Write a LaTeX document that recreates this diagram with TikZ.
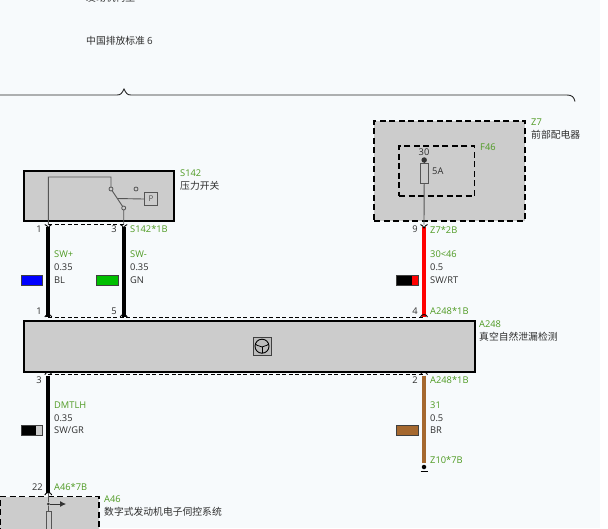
\documentclass[tikz,border=0pt]{standalone}
\usepackage{fontspec}
\setmainfont{Open Sans}
\newfontfamily\cjk{Noto Sans CJK SC}
\usetikzlibrary{calc,arrows.meta}
\definecolor{bgc}{HTML}{F7FAFC}
\definecolor{gry}{HTML}{CCCCCC}
\definecolor{grn}{HTML}{4E9A22}
\definecolor{txt}{HTML}{2E2E2E}
\definecolor{brn}{HTML}{A5682F}
\definecolor{inner}{HTML}{555555}
\newcommand{\cj}{\fontsize{9.8}{11}\selectfont\cjk}
\tikzset{
 x=1pt,y=-1pt,
 comp/.style={draw=black,line width=2pt,fill=gry},
 dcomp/.style={draw=black,line width=1.8pt,fill=gry,dash pattern=on 6pt off 3.5pt},
 dbox/.style={draw=black,line width=1.6pt,dash pattern=on 6pt off 3.5pt},
 shield/.style={draw=black,line width=0.7pt,dash pattern=on 4pt off 2.5pt},
 wire/.style={line width=3.8pt,line cap=butt},
 thin line/.style={draw=inner,line width=0.9pt},
 swatch/.style={draw=black!75,line width=0.7pt,minimum width=21.5pt,minimum height=10pt,inner sep=0pt,outer sep=0pt},
 lab/.style={inner sep=0pt,anchor=west,font=\fontsize{9.3}{11}\selectfont,text=txt},
 glab/.style={lab,text=grn},
 pin/.style={inner sep=0pt,anchor=east,font=\fontsize{9.3}{11}\selectfont,text=txt},
 pinb/.style={draw=black,line width=0.9pt,fill=none},
 hole/.style={circle,draw=inner,line width=0.8pt,fill=gry,minimum size=4pt,inner sep=0pt},
}
\newcommand{\forkup}[1]{\draw[pinb] ($(#1)+(-3.5,0)$) .. controls ($(#1)+(-1.5,0.5)$) and ($(#1)+(-1,2)$) .. ($(#1)+(0,3.5)$) .. controls ($(#1)+(1,2)$) and ($(#1)+(1.5,0.5)$) .. ($(#1)+(3.5,0)$);}
\newcommand{\forkdn}[1]{\draw[pinb] ($(#1)+(-3.5,0)$) .. controls ($(#1)+(-2.5,-3.2)$) and ($(#1)+(2.5,-3.2)$) .. ($(#1)+(3.5,0)$);}
\begin{document}
\begin{tikzpicture}
\useasboundingbox (0,0) rectangle (608,528);
\fill[white] (0,0) rectangle (608,528);
\fill[bgc] (0,0) rectangle (600,528);

% top texts
\begin{scope}
\clip (0,0) rectangle (608,528);
\node[lab] (cut) at (86,-2) {\cj 发动机构型};
\end{scope}
\node[lab] (std) at (86,41) {\cj 中国排放标准\ \rmfamily 6};

% bracket
\coordinate (brL) at (0,95);
\coordinate (brP) at (124,89);
\coordinate (brR) at (575,101.5);
\draw[line width=0.9pt,draw=black!85] (brL) -- (117,95) .. controls (121,95) and (122,93) .. (brP) .. controls (126,93) and (127,95) .. (131,95) -- (567,95) .. controls (572,95) and (574,97) .. (brR);

% components
\node[comp,anchor=north west,minimum width=150pt,minimum height=50pt,inner sep=0pt,outer sep=0pt] (S142) at (23.5,171) {};
\node[comp,anchor=north west,minimum width=451pt,minimum height=51pt,inner sep=0pt,outer sep=0pt] (A248) at (23.5,320.5) {};
\node[dcomp,anchor=north west,minimum width=150.5pt,minimum height=100pt,inner sep=0pt,outer sep=0pt] (Z7) at (374.2,120.8) {};
\node[dbox,anchor=north west,minimum width=75.5pt,minimum height=50.3pt,inner sep=0pt,outer sep=0pt] (F46) at (399,145.8) {};
\path[dcomp] (0,496.5) -- (99,496.5) -- (99,535) -- (0,535) -- cycle;
\coordinate (A46top) at (48.3,496.5);

% connection points
\coordinate (s1) at (48.3,224.5);
\coordinate (s3) at (123.7,224.5);
\coordinate (a1) at (48.3,317);
\coordinate (a5) at (123.7,317);
\coordinate (a4) at (424,317);
\coordinate (z9) at (424,224.5);
\coordinate (b3) at (48.3,374.6);
\coordinate (b2) at (424,374.6);
\coordinate (a22) at (48.3,492.5);
\coordinate (gnd) at (424,463);

% shields
\draw[shield] (s1) -- (s3);
\draw[shield] (a1) -- (a4);
\draw[shield] (b3) -- (b2);

% wires
\draw[wire,black] ($(s1)+(0,2)$) -- ($(a1)+(0,-0.5)$);
\draw[wire,black] ($(s3)+(0,2)$) -- ($(a5)+(0,-0.5)$);
\draw[wire,red] ($(z9)+(0,2)$) -- ($(a4)+(0,-0.5)$);
\draw[wire,black] ($(b3)+(0,1)$) -- (a22);
\draw[wire,brn] ($(b2)+(0,1)$) -- (gnd);

% connector forks
\forkup{s1}\forkup{s3}\forkup{z9}
\forkdn{a1}\forkdn{a5}\forkdn{a4}
\forkdn{b3}\forkdn{b2}
\draw[pinb] (44.8,495) .. controls (45.8,491.8) and (50.8,491.8) .. (51.8,495);

% switch
\coordinate (swTop) at (111,189);
\coordinate (swBot) at (123.7,208);
\coordinate (swMid) at (117.3,198.5);
\coordinate (swRest) at (136,189);
\draw[thin line] (s1) -- (48.3,177) -- (111,177) -- (swTop) -- (swBot) -- (s3);
\node[draw=inner,line width=0.9pt,minimum width=13.5pt,minimum height=13.5pt,inner sep=0pt,font=\fontsize{8}{9}\selectfont,text=inner] (P) at (151,199) {P};
\draw[thin line] (swMid) -- (P.west);
\node[hole] (h1) at (swTop) {};
\node[hole] (h2) at (swBot) {};
\node[hole] (h3) at (swRest) {};

% fuse
\node[draw=inner,line width=0.8pt,fill=gry,minimum width=8pt,minimum height=20pt,inner sep=0pt] (fuse) at (424.2,173.3) {};
\draw[thin line] (424.2,160) -- (fuse.north);
\draw[thin line] (fuse.south) -- (z9);
\node[circle,fill=black!80,minimum size=5.5pt,inner sep=0pt] (fdot) at (424.2,160) {};

% A248 icon
\node[draw=black!75,line width=0.9pt,minimum width=18pt,minimum height=18pt,inner sep=0pt,fill=gry!92!black] (icon) at (262,346.2) {};
\node[circle,draw=black,line width=0.9pt,minimum size=14pt,inner sep=0pt] (iconc) at (262,346.2) {};
\draw[line width=0.8pt] (255.5,344) .. controls (258,347) and (260,345) .. (262,347) .. controls (264,345) and (266,347) .. (268.5,344);
\draw[line width=0.8pt] (262,347) -- (262,353);

% A46 internals
\node[circle,fill=black!80,minimum size=3pt,inner sep=0pt] (jn) at (48.3,504) {};
\draw[thin line] (a22) -- (jn);
\coordinate (arr) at (66,504);
\draw[draw=black!80,line width=0.8pt,-{Latex[length=6pt,width=6pt]}] (jn) -- (arr);
\draw[thin line] (jn) -- (48.3,511);
\draw[draw=inner,line width=0.8pt,fill=gry] (46,511) rectangle (51,532);

% ground
\node[circle,fill=black,minimum size=4.5pt,inner sep=0pt] (gd) at (424,467) {};
\draw[line width=1.2pt] (420.5,471.5) -- (427.5,471.5);

% swatches
\node[swatch,fill=blue,anchor=north west] (cBL) at (21,275.2) {};
\node[swatch,fill=green!75!black,anchor=north west] (cGN) at (96.5,275.2) {};
\node[swatch,fill=black,anchor=north west] (cRT) at (396.8,275.2) {};
\fill[red] (411.8,275.6) rectangle (418,284.8);
\node[swatch,fill=black,anchor=north west] (cGR) at (21,425.4) {};
\fill[gry] (35.7,425.8) rectangle (42.2,435);
\node[swatch,fill=brn,anchor=north west] (cBR) at (396.8,425.4) {};

% labels
\node[glab] (l1) at (180,173) {S142};
\node[lab] (l2) at (180,186) {\cj 压力开关};
\node[glab] (l3) at (531,122) {Z7};
\node[lab] (l4) at (531,135) {\cj 前部配电器};
\node[glab] (l5) at (480,147) {F46};
\node[pin,anchor=center] (l6) at (424,152) {30};
\node[lab] (l7) at (432,171) {5A};
\node[pin] (p1) at (42,229.5) {1};
\node[pin] (p3) at (117,229.5) {3};
\node[glab] (c1) at (130,229.5) {S142*1B};
\node[pin] (p9) at (418,229.5) {9};
\node[glab] (c2) at (430,229.5) {Z7*2B};
\node[glab] (w1) at (54,254.5) {SW+};
\node[lab] (w1a) at (54,267) {0.35};
\node[lab] (w1b) at (54,280) {BL};
\node[glab] (w2) at (130,254.5) {SW-};
\node[lab] (w2a) at (130,267) {0.35};
\node[lab] (w2b) at (130,280) {GN};
\node[glab] (w3) at (430,254.5) {30<46};
\node[lab] (w3a) at (430,267) {0.5};
\node[lab] (w3b) at (430,280) {SW/RT};
\node[pin] (p1b) at (42,311) {1};
\node[pin] (p5) at (117,311) {5};
\node[pin] (p4) at (418,311) {4};
\node[glab] (c3) at (430,311) {A248*1B};
\node[glab] (l8) at (479,324) {A248};
\node[lab] (l9) at (479,337) {\cj 真空自然泄漏检测};
\node[pin] (p3b) at (42,380) {3};
\node[pin] (p2) at (418,380) {2};
\node[glab] (c4) at (430,380) {A248*1B};
\node[glab] (w4) at (54,405) {DMTLH};
\node[lab] (w4a) at (54,418) {0.35};
\node[lab] (w4b) at (54,430) {SW/GR};
\node[glab] (w5) at (430,405) {31};
\node[lab] (w5a) at (430,418) {0.5};
\node[lab] (w5b) at (430,430) {BR};
\node[glab] (c5) at (430,460) {Z10*7B};
\node[pin] (p22) at (43,487) {22};
\node[glab] (c6) at (54,487) {A46*7B};
\node[glab] (l10) at (104,499) {A46};
\node[lab] (l11) at (104,512) {\cj 数字式发动机电子伺控系统};
\end{tikzpicture}
\end{document}
